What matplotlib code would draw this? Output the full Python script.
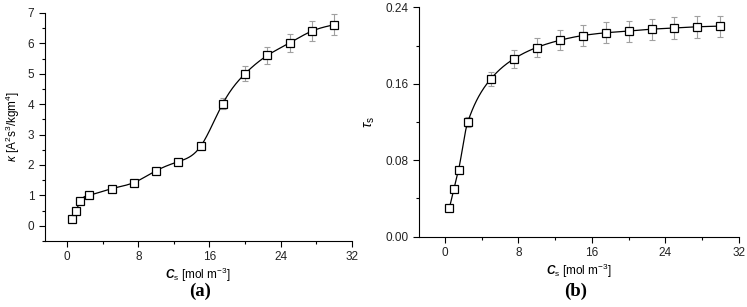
import numpy as np
import matplotlib
matplotlib.use("Agg")
import matplotlib.pyplot as plt
from matplotlib.ticker import MultipleLocator

plt.rcParams['font.family'] = ['Liberation Sans', 'DejaVu Sans']
plt.rcParams['mathtext.fontset'] = 'custom'
plt.rcParams['mathtext.rm'] = 'Liberation Sans'
plt.rcParams['mathtext.it'] = 'Liberation Sans:italic'
plt.rcParams['mathtext.bf'] = 'Liberation Sans:bold:italic'

# salt concentration [mol m^-3]
cs = [0.5, 1.0, 1.5, 2.5, 5.0, 7.5, 10.0, 12.5, 15.0, 17.5, 20.0, 22.5, 25.0, 27.5, 30.0]

# panel (a): kappa
kappa = [0.21, 0.50, 0.81, 1.01, 1.22, 1.42, 1.81, 2.11, 2.61, 4.02, 5.00, 5.60, 6.01, 6.40, 6.61]
kappa_err = [0.02, 0.03, 0.04, 0.05, 0.05, 0.06, 0.06, 0.07, 0.08, 0.19, 0.25, 0.29, 0.30, 0.34, 0.35]

# panel (b): tau_s
tau = [0.030, 0.050, 0.070, 0.120, 0.165, 0.186, 0.198, 0.2055, 0.2105, 0.2134, 0.2152,
       0.2172, 0.2184, 0.2197, 0.2204]
tau_err = [0.001, 0.002, 0.003, 0.005, 0.0075, 0.009, 0.010, 0.0105, 0.0107, 0.011,
           0.011, 0.011, 0.011, 0.0113, 0.011]


def spline(x, y, xs):
    """Natural cubic spline through the points."""
    x = np.asarray(x, float)
    y = np.asarray(y, float)
    n = len(x)
    h = np.diff(x)
    A = np.zeros((n, n))
    r = np.zeros(n)
    A[0, 0] = A[-1, -1] = 1
    for i in range(1, n - 1):
        A[i, i - 1] = h[i - 1]
        A[i, i] = 2 * (h[i - 1] + h[i])
        A[i, i + 1] = h[i]
        r[i] = 6 * ((y[i + 1] - y[i]) / h[i] - (y[i] - y[i - 1]) / h[i - 1])
    M = np.linalg.solve(A, r)
    k = np.clip(np.searchsorted(x, xs) - 1, 0, n - 2)
    a = x[k + 1] - xs
    b = xs - x[k]
    hk = h[k]
    return (M[k] * a**3 / (6 * hk) + M[k + 1] * b**3 / (6 * hk)
            + (y[k] / hk - M[k] * hk / 6) * a + (y[k + 1] / hk - M[k + 1] * hk / 6) * b)


def pchip(x, y, xs):
    """Monotone cubic curve through the points (Fritsch-Carlson)."""
    x = np.asarray(x, float)
    y = np.asarray(y, float)
    h = np.diff(x)
    d = np.diff(y) / h
    m = np.zeros_like(y)
    for k in range(1, len(x) - 1):
        if d[k - 1] * d[k] > 0:
            w1 = 2 * h[k] + h[k - 1]
            w2 = h[k] + 2 * h[k - 1]
            m[k] = (w1 + w2) / (w1 / d[k - 1] + w2 / d[k])
    m[0] = d[0]
    m[-1] = d[-1]
    idx = np.clip(np.searchsorted(x, xs) - 1, 0, len(x) - 2)
    t = (xs - x[idx]) / h[idx]
    h00 = 2 * t**3 - 3 * t**2 + 1
    h10 = t**3 - 2 * t**2 + t
    h01 = -2 * t**3 + 3 * t**2
    h11 = t**3 - t**2
    return h00 * y[idx] + h10 * h[idx] * m[idx] + h01 * y[idx + 1] + h11 * h[idx] * m[idx + 1]


def draw(ax, y, yerr, curve):
    xs = np.linspace(cs[0], cs[-1], 500)
    ax.plot(xs, curve(cs, y, xs), color='black', lw=0.9, zorder=2)
    ax.errorbar(cs, y, yerr=yerr, fmt='none', ecolor='#a0a0a0', elinewidth=0.8,
                capsize=2.5, capthick=0.8, zorder=1)
    ax.plot(cs, y, 's', ms=5.5, mfc='white', mec='black', mew=0.9, zorder=3)
    for s in ['top', 'right']:
        ax.spines[s].set_visible(False)
    ax.tick_params(direction='out', length=4, width=0.8, labelsize=8.5, labelcolor='#222222')
    ax.tick_params(which='minor', direction='out', length=2.5, width=0.8)
    ax.xaxis.set_major_locator(MultipleLocator(8))
    ax.xaxis.set_minor_locator(MultipleLocator(4))
    ax.set_xlabel(r'$\mathbf{C}_{\mathrm{s}}$ [mol m$^{-3}$]', fontsize=8.5, labelpad=2)


fig = plt.figure(figsize=(7.47, 3.07), dpi=100)

ax1 = fig.add_axes([0.060, 0.215, 0.411, 0.743])
draw(ax1, kappa, kappa_err, spline)
ax1.set_xlim(-2.5, 32)
ax1.set_ylim(-0.5, 7)
ax1.yaxis.set_major_locator(MultipleLocator(1))
ax1.yaxis.set_minor_locator(MultipleLocator(0.5))
ax1.set_ylabel(r'$\kappa$ [A$^2$s$^3$/kgm$^4$]', fontsize=8.5, labelpad=4)

ax2 = fig.add_axes([0.561, 0.229, 0.428, 0.747])
draw(ax2, tau, tau_err, pchip)
ax2.set_xlim(-2.8, 32)
ax2.set_ylim(0, 0.24)
ax2.yaxis.set_major_locator(MultipleLocator(0.08))
ax2.yaxis.set_minor_locator(MultipleLocator(0.04))
ax2.yaxis.set_major_formatter(plt.FormatStrFormatter('%.2f'))
ax2.set_ylabel(r'$\tau_{\mathrm{s}}$', fontsize=10, labelpad=6)

fig.text(0.268, 0.035, '(a)', ha='center', fontsize=13.5, family='Liberation Serif', weight='bold')
fig.text(0.770, 0.035, '(b)', ha='center', fontsize=13.5, family='Liberation Serif', weight='bold')

fig.savefig('out.png', dpi=100)
